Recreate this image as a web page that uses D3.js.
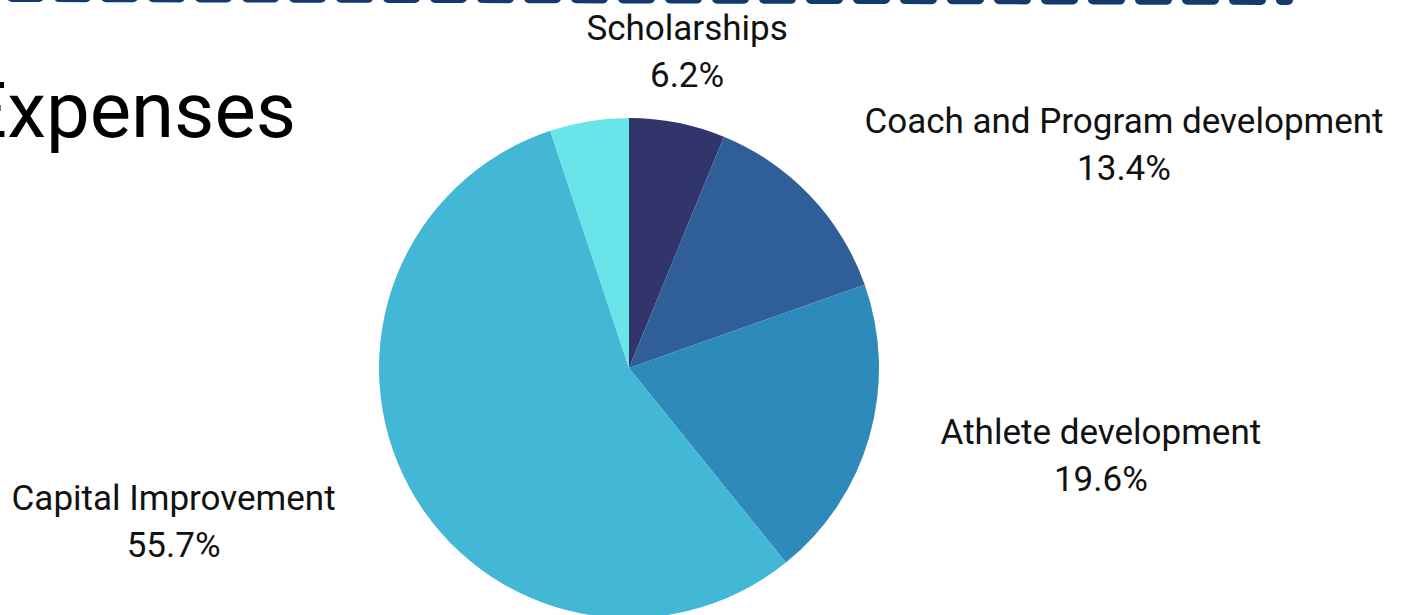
<!DOCTYPE html>
<html>
<head>
<meta charset="utf-8">
<script src="https://cdn.jsdelivr.net/npm/d3@7"></script>
<style>
  body { margin: 0; background: #fff; }
  svg { display: block; font-family: Roboto, "Noto Sans", sans-serif; }
</style>
</head>
<body>
<script>
//Width and height
var w = 1406;
var h = 615;

// Data (clockwise from 12 o'clock)
var categories = ["Scholarships", "Coach and Program development", "Athlete development", "Capital Improvement", ""];
var values = [6.2, 13.4, 19.6, 55.7, 5.1];
var colors = ["#31356c", "#2f5e98", "#2d8aba", "#42b7d6", "#69e4e9"];
// label nudges from the slice anchor point
var labelDx = [0, 18, 23, -30, 0];
var labelDy = [-23, -17, 5, 9, 0];

var cx = 629, cy = 368, radius = 250;

var svg = d3.select("body").append("svg").attr("width", w).attr("height", h);

// dashed strip along the top edge
svg.append("line")
  .attr("x1", 12).attr("y1", -3)
  .attr("x2", 1288).attr("y2", 0)
  .attr("stroke", "#123b6b")
  .attr("stroke-width", 10)
  .attr("stroke-linecap", "round")
  .attr("stroke-dasharray", "27 20");

// title, running off the left edge
svg.append("text")
  .attr("x", 296)
  .attr("y", 137)
  .attr("text-anchor", "end")
  .attr("font-size", 78)
  .attr("fill", "#000")
  .text("Expenses");

var dataset = values.map(function (v, i) {
  return { name: categories[i], value: v, color: colors[i], i: i };
});

var pie = d3.pie().sort(null).value(function (d) { return d.value; });
var arc = d3.arc().innerRadius(0).outerRadius(radius);
var labelArc = d3.arc().innerRadius(300).outerRadius(300);

var g = svg.append("g").attr("transform", "translate(" + cx + "," + cy + ")");

var arcs = pie(dataset);

g.selectAll("path")
  .data(arcs)
  .enter()
  .append("path")
  .attr("d", arc)
  .attr("fill", function (d) { return d.data.color; });

// Labels
g.selectAll("text")
  .data(arcs.filter(function (d) { return d.data.name !== ""; }))
  .enter()
  .append("text")
  .attr("font-size", 35)
  .attr("fill", "#111")
  .attr("transform", function (d) {
    var c = labelArc.centroid(d);
    return "translate(" + (c[0] + labelDx[d.data.i]) + "," + (c[1] + labelDy[d.data.i]) + ")";
  })
  .each(function (d) {
    var mid = (d.startAngle + d.endAngle) / 2;
    var s = Math.sin(mid);
    var t = d3.select(this);
    var anchor = Math.abs(s) < 0.3 ? "middle" : (s > 0 ? "start" : "end");
    t.attr("text-anchor", anchor);
    var line1 = t.append("tspan").attr("x", 0).attr("y", -11).text(d.data.name);
    var wdt = line1.node().getComputedTextLength();
    var off = anchor === "start" ? wdt / 2 : (anchor === "end" ? -wdt / 2 : 0);
    t.append("tspan")
      .attr("x", off)
      .attr("y", 36)
      .attr("text-anchor", "middle")
      .text(d.data.value.toFixed(1) + "%");
  });
</script>
</body>
</html>
